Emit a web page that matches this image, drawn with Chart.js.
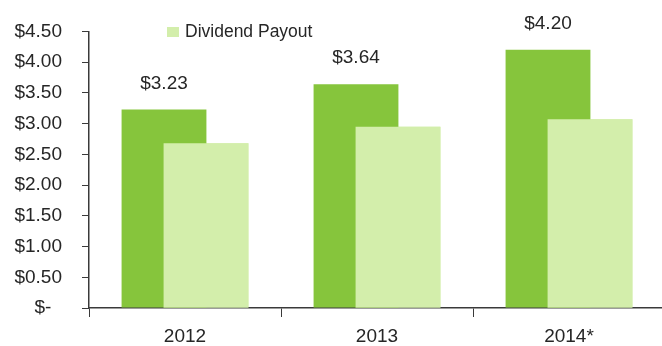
<!DOCTYPE html>
<html>
<head>
<meta charset="utf-8">
<script src="https://cdn.jsdelivr.net/npm/chart.js@4"></script>
<style>
html,body{margin:0;padding:0;background:#fff;overflow:hidden;}
#wrap{position:relative;width:665px;height:346px;}
</style>
</head>
<body>
<div id="wrap"><canvas id="c"></canvas></div>
<script>
const categories = ['2012', '2013', '2014*'];
const earnings = [3.23, 3.64, 4.20];
const dividendPayout = [2.68, 2.95, 3.07];
const yTicks = [0, 0.5, 1, 1.5, 2, 2.5, 3, 3.5, 4, 4.5];

const DARK = '#86c53c';
const LIGHT = '#d3eeab';
const TEXT = '#262626';
const AXIS = '#3a3a3a';
const FONT = "'Liberation Sans', Arial, sans-serif";

// draw the light (front) bars on top of the dark ones
const frontBars = {
  id: 'frontBars',
  afterDatasetsDraw(chart) {
    const meta = chart.getDatasetMeta(1);
    const area = chart.chartArea;
    const ctx = chart.ctx;
    ctx.save();
    ctx.beginPath();
    ctx.rect(area.left, area.top - 50, area.right - area.left, area.bottom - area.top + 50);
    ctx.clip();
    meta.controller.draw();
    ctx.restore();
  }
};

const valueLabels = {
  id: 'valueLabels',
  afterDatasetsDraw(chart) {
    const ctx = chart.ctx;
    const meta = chart.getDatasetMeta(0);
    ctx.save();
    ctx.font = '19px ' + FONT;
    ctx.fillStyle = TEXT;
    ctx.textAlign = 'center';
    ctx.textBaseline = 'middle';
    meta.data.forEach((el, i) => {
      ctx.fillText('$' + earnings[i].toFixed(2), el.x, el.y - 26);
    });
    ctx.restore();
  }
};

const customLegend = {
  id: 'customLegend',
  afterDraw(chart) {
    const ctx = chart.ctx;
    ctx.save();
    ctx.fillStyle = LIGHT;
    ctx.fillRect(167, 27, 12, 10);
    ctx.font = '17.5px ' + FONT;
    ctx.fillStyle = TEXT;
    ctx.textAlign = 'left';
    ctx.textBaseline = 'middle';
    ctx.fillText('Dividend Payout', 185, 32);
    ctx.restore();
  }
};

new Chart(document.getElementById('c'), {
  type: 'bar',
  data: {
    labels: categories,
    datasets: [
      { label: 'EPS', data: earnings, backgroundColor: DARK, borderWidth: 0 },
      { label: 'Dividend Payout', data: dividendPayout, backgroundColor: LIGHT, borderWidth: 0 }
    ]
  },
  options: {
    responsive: true,
    maintainAspectRatio: false,
    animation: false,
    categoryPercentage: 0.4375,
    barPercentage: 2.02,
    layout: { padding: { top: 30, right: 0, left: 0, bottom: 0 } },
    plugins: { legend: { display: false }, tooltip: { enabled: false } },
    scales: {
      x: {
        grid: { display: true, drawOnChartArea: false, drawTicks: true, tickLength: 9, color: AXIS, offset: true },
        border: { display: true, color: AXIS, width: 1.5 },
        ticks: { color: TEXT, font: { family: FONT, size: 19 }, padding: 8 },
        afterFit(s) { s.height = 38; }
      },
      y: {
        min: 0, max: 4.5,
        afterBuildTicks(s) { s.ticks = yTicks.map(v => ({ value: v })); },
        grid: { display: true, drawOnChartArea: false, drawTicks: true, tickLength: 7, color: AXIS },
        border: { display: true, color: AXIS, width: 1.5 },
        ticks: {
          color: TEXT, font: { family: FONT, size: 19 }, padding: 20,
          callback: v => v === 0 ? '$-  ' : '$' + Number(v).toFixed(2)
        },
        afterFit(s) { s.width = 89; }
      }
    }
  },
  plugins: [frontBars, valueLabels, customLegend]
});
</script>
</body>
</html>
